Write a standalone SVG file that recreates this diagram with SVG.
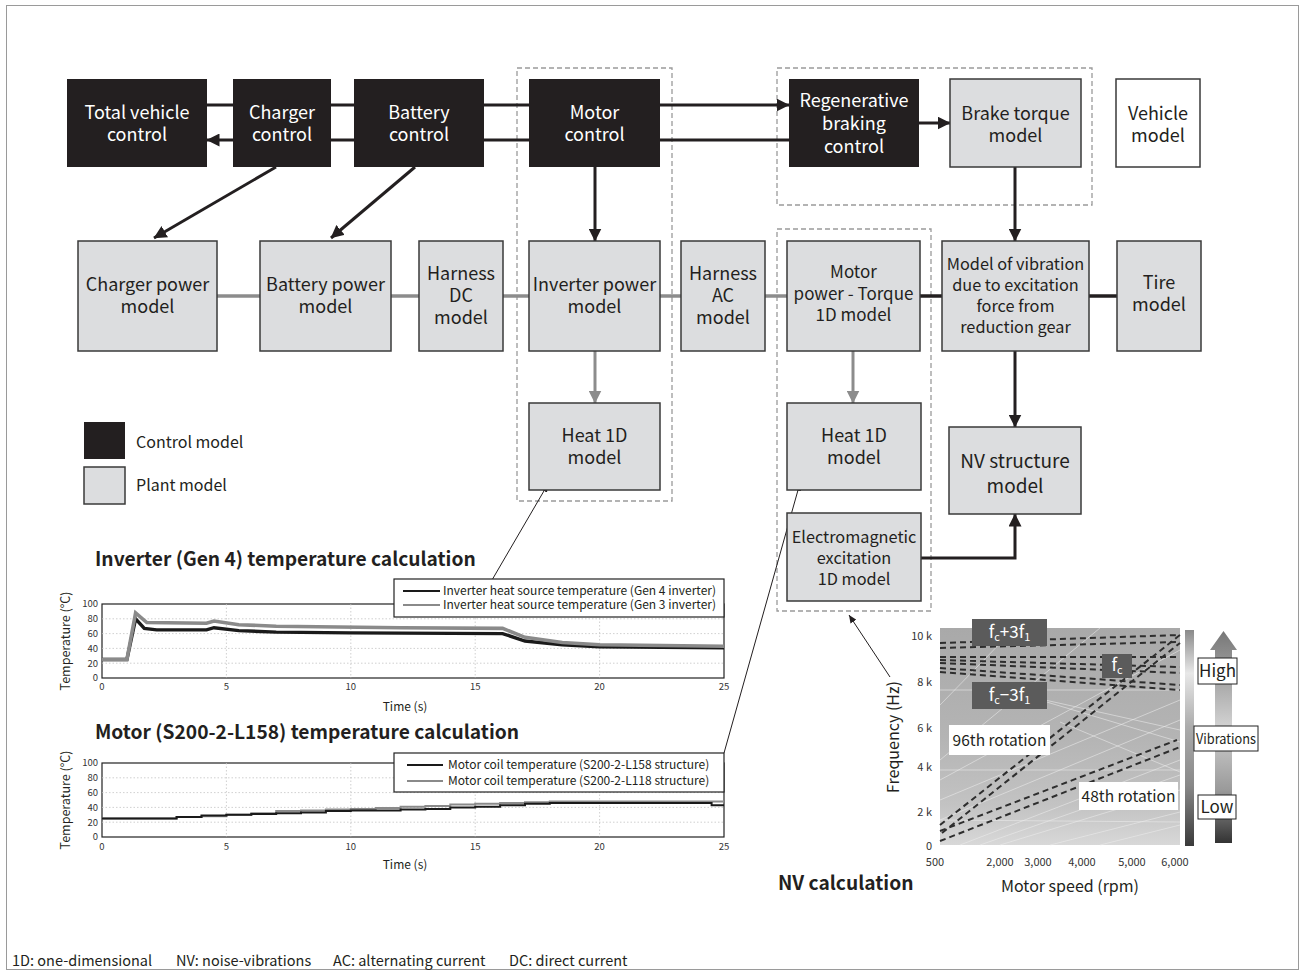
<svg xmlns="http://www.w3.org/2000/svg" width="1305" height="976" viewBox="0 0 1305 976">
<defs>
<style>
text{font-family:"Noto Sans CJK JP","Noto Sans",sans-serif;}
.ctl{fill:#231f20;}
.plant{fill:#dcdddf;stroke:#3a3a3a;stroke-width:1.5;}
.wt{fill:#fff;font-size:18px;text-anchor:middle;}
.bt{fill:#231f20;font-size:18px;text-anchor:middle;}
.bs{fill:#231f20;font-size:16.3px;text-anchor:middle;}
.bm{fill:#231f20;font-size:17px;text-anchor:middle;}
.dash{fill:none;stroke:#9a9a9a;stroke-width:1.3;stroke-dasharray:5 3;}
.blk{stroke:#231f20;stroke-width:3;fill:none;}
.gry{stroke:#8c8c8c;stroke-width:3.5;fill:none;}
.thin{stroke:#231f20;stroke-width:1;fill:none;}
.tickr{font-size:9.5px;fill:#333;text-anchor:end;}
.tickc{font-size:9.5px;fill:#333;text-anchor:middle;}
.grid{stroke:#c4c4c4;stroke-width:0.8;stroke-dasharray:1.5 2;}
.nvd{stroke:#2e2e2e;stroke-width:2;stroke-dasharray:6 4;fill:none;}
.streak{stroke:#eeeeee;stroke-width:1;opacity:.55;}
.ttl{font-size:19.2px;font-weight:bold;fill:#231f20;}
.leg{font-size:12px;fill:#231f20;}
.nvt{font-size:11px;fill:#333;}
.fbox{fill:#5b5b5b;}
.ft{fill:#fff;font-size:17px;text-anchor:middle;}
</style>
<marker id="ab" markerUnits="userSpaceOnUse" markerWidth="13" markerHeight="13" viewBox="0 0 13 13" refX="12.5" refY="6.5" orient="auto"><path d="M0,0 L13,6.5 L0,13 z" fill="#231f20"/></marker>
<marker id="ag" markerUnits="userSpaceOnUse" markerWidth="13" markerHeight="13" viewBox="0 0 13 13" refX="12.5" refY="6.5" orient="auto"><path d="M0,0 L13,6.5 L0,13 z" fill="#8c8c8c"/></marker>
<marker id="at" markerUnits="userSpaceOnUse" markerWidth="8" markerHeight="7" viewBox="0 0 8 7" refX="8" refY="3.5" orient="auto"><path d="M0,0 L8,3.5 L0,7 z" fill="#231f20"/></marker>
<linearGradient id="hm" x1="0" y1="0" x2="0" y2="1"><stop offset="0" stop-color="#a9a9a9"/><stop offset="0.5" stop-color="#b4b4b4"/><stop offset="0.82" stop-color="#c3c3c3"/><stop offset="1" stop-color="#d8d8d8"/></linearGradient>
<linearGradient id="cb" x1="0" y1="0" x2="0" y2="1"><stop offset="0" stop-color="#8a8a8a"/><stop offset="0.2" stop-color="#e8e8e8"/><stop offset="0.45" stop-color="#ababab"/><stop offset="0.72" stop-color="#888"/><stop offset="1" stop-color="#3a3a3a"/></linearGradient>
<linearGradient id="ar" x1="0" y1="0" x2="0" y2="1"><stop offset="0" stop-color="#777"/><stop offset="0.45" stop-color="#d2d2d2"/><stop offset="0.75" stop-color="#9a9a9a"/><stop offset="1" stop-color="#333"/></linearGradient>
</defs>
<rect x="0" y="0" width="1305" height="976" fill="#fff"/>
<rect x="6.5" y="5.5" width="1292" height="964" fill="none" stroke="#9a9a9a" stroke-width="1"/>

<g id="groups">
<rect class="dash" x="517" y="68" width="155" height="433"/>
<rect class="dash" x="777" y="68" width="315" height="137"/>
<rect class="dash" x="777" y="229" width="154" height="382"/>
</g>

<g id="connectors">
<line class="blk" x1="207" y1="105" x2="789" y2="105" marker-end="url(#ab)"/>
<line class="blk" x1="789" y1="140" x2="207" y2="140" marker-end="url(#ab)"/>
<line class="blk" x1="919" y1="123" x2="950" y2="123" marker-end="url(#ab)"/>
<line class="blk" x1="276" y1="167" x2="154" y2="238" marker-end="url(#ab)"/>
<line class="blk" x1="415" y1="167" x2="331" y2="238" marker-end="url(#ab)"/>
<line class="blk" x1="595" y1="167" x2="595" y2="241" marker-end="url(#ab)"/>
<line class="blk" x1="1015" y1="167" x2="1015" y2="241" marker-end="url(#ab)"/>
<line class="gry" x1="217" y1="296" x2="260" y2="296"/>
<line class="gry" x1="391" y1="296" x2="419" y2="296"/>
<line class="gry" x1="503" y1="296" x2="529" y2="296"/>
<line class="gry" x1="660" y1="296" x2="681" y2="296"/>
<line class="gry" x1="765" y1="296" x2="787" y2="296"/>
<line stroke="#231f20" stroke-width="3.5" x1="920" y1="296" x2="942" y2="296"/>
<line stroke="#231f20" stroke-width="3.5" x1="1089" y1="296" x2="1117" y2="296"/>
<line stroke="#8c8c8c" stroke-width="3" x1="595" y1="351" x2="595" y2="403" marker-end="url(#ag)"/>
<line stroke="#8c8c8c" stroke-width="3" x1="853" y1="351" x2="853" y2="403" marker-end="url(#ag)"/>
<line class="blk" x1="1015" y1="351" x2="1015" y2="427" marker-end="url(#ab)"/>
<path class="blk" d="M921,558 H1015 V514" marker-end="url(#ab)"/>
<line class="thin" x1="492" y1="580" x2="548" y2="484" marker-end="url(#at)"/>
<line class="thin" x1="724" y1="753" x2="800" y2="483" marker-end="url(#at)"/>
<line class="thin" x1="890" y1="677" x2="849" y2="615" marker-end="url(#at)"/>
</g>

<g id="total-vehicle-control"><rect class="ctl" x="67" y="79" width="140" height="88"/><text class="wt" x="137" y="119">Total vehicle</text><text class="wt" x="137" y="141">control</text></g>
<g id="charger-control"><rect class="ctl" x="233" y="79" width="98" height="88"/><text class="wt" x="282" y="119">Charger</text><text class="wt" x="282" y="141">control</text></g>
<g id="battery-control"><rect class="ctl" x="354" y="79" width="130" height="88"/><text class="wt" x="419" y="119">Battery</text><text class="wt" x="419" y="141">control</text></g>
<g id="motor-control"><rect class="ctl" x="529" y="79" width="131" height="88"/><text class="wt" x="594.5" y="119">Motor</text><text class="wt" x="594.5" y="141">control</text></g>
<g id="regenerative-braking-control"><rect class="ctl" x="789" y="79" width="130" height="88"/><text class="wt" x="854" y="107">Regenerative</text><text class="wt" x="854" y="130">braking</text><text class="wt" x="854" y="153">control</text></g>
<g id="brake-torque-model"><rect class="plant" x="950" y="79" width="131" height="88"/><text class="bt" x="1015.5" y="120">Brake torque</text><text class="bt" x="1015.5" y="142">model</text></g>
<g id="vehicle-model"><rect x="1116" y="79" width="84" height="88" fill="#fff" stroke="#3a3a3a" stroke-width="1.5"/><text class="bt" x="1158" y="120">Vehicle</text><text class="bt" x="1158" y="142">model</text></g>

<g id="charger-power-model"><rect class="plant" x="78" y="241" width="139" height="110"/><text class="bt" x="147.5" y="291">Charger power</text><text class="bt" x="147.5" y="313">model</text></g>
<g id="battery-power-model"><rect class="plant" x="260" y="241" width="131" height="110"/><text class="bt" x="325.5" y="291">Battery power</text><text class="bt" x="325.5" y="313">model</text></g>
<g id="harness-dc-model"><rect class="plant" x="419" y="241" width="84" height="110"/><text class="bt" x="461" y="280">Harness</text><text class="bt" x="461" y="302">DC</text><text class="bt" x="461" y="324">model</text></g>
<g id="inverter-power-model"><rect class="plant" x="529" y="241" width="131" height="110"/><text class="bt" x="594.5" y="291">Inverter power</text><text class="bt" x="594.5" y="313">model</text></g>
<g id="harness-ac-model"><rect class="plant" x="681" y="241" width="84" height="110"/><text class="bt" x="723" y="280">Harness</text><text class="bt" x="723" y="302">AC</text><text class="bt" x="723" y="324">model</text></g>
<g id="motor-power-torque-model"><rect class="plant" x="787" y="241" width="133" height="110"/><text class="bm" x="853.5" y="278">Motor</text><text class="bm" x="853.5" y="300">power - Torque</text><text class="bm" x="853.5" y="321">1D model</text></g>
<g id="vibration-model"><rect class="plant" x="942" y="241" width="147" height="110"/><text class="bs" x="1015.5" y="270">Model of vibration</text><text class="bs" x="1015.5" y="291">due to excitation</text><text class="bs" x="1015.5" y="312">force from</text><text class="bs" x="1015.5" y="333">reduction gear</text></g>
<g id="tire-model"><rect class="plant" x="1117" y="241" width="84" height="110"/><text class="bt" x="1159" y="289">Tire</text><text class="bt" x="1159" y="311">model</text></g>

<g id="heat-1d-inverter"><rect class="plant" x="529" y="403" width="131" height="87"/><text class="bt" x="594.5" y="442">Heat 1D</text><text class="bt" x="594.5" y="464">model</text></g>
<g id="heat-1d-motor"><rect class="plant" x="787" y="403" width="134" height="87"/><text class="bt" x="854" y="442">Heat 1D</text><text class="bt" x="854" y="464">model</text></g>
<g id="electromagnetic-excitation-model"><rect class="plant" x="787" y="513" width="134" height="88"/><text class="bs" x="854" y="543">Electromagnetic</text><text class="bs" x="854" y="564">excitation</text><text class="bs" x="854" y="585">1D model</text></g>
<g id="nv-structure-model"><rect class="plant" x="949" y="427" width="132" height="87"/><text class="bt" style="font-size:19px" x="1015" y="468">NV structure</text><text class="bt" style="font-size:19px" x="1015" y="493">model</text></g>

<g id="legend">
<rect class="ctl" x="84" y="422" width="41" height="37"/>
<text x="136" y="448" font-size="16" fill="#231f20">Control model</text>
<rect class="plant" x="84" y="467" width="41" height="37"/>
<text x="136" y="491" font-size="16" fill="#231f20">Plant model</text>
</g>

<g id="inverter-chart">
<text class="ttl" x="95" y="566">Inverter (Gen 4) temperature calculation</text>
<rect x="102" y="604" width="622" height="74" fill="#fff" stroke="#222" stroke-width="1.2"/>
<line class="grid" x1="226.4" y1="604" x2="226.4" y2="678"/><line class="grid" x1="350.8" y1="604" x2="350.8" y2="678"/><line class="grid" x1="475.2" y1="604" x2="475.2" y2="678"/><line class="grid" x1="599.6" y1="604" x2="599.6" y2="678"/>
<line class="grid" x1="102" y1="618.8" x2="724" y2="618.8"/><line class="grid" x1="102" y1="633.6" x2="724" y2="633.6"/><line class="grid" x1="102" y1="648.4" x2="724" y2="648.4"/><line class="grid" x1="102" y1="663.2" x2="724" y2="663.2"/>
<polyline fill="none" stroke="#1a1a1a" stroke-width="3.4" points="102,659.5 126.9,659.5 135.6,618.8 144.3,628.4 156.7,629.9 206.5,629.9 214,627.7 238.8,630.6 276.2,632.1 350.8,632.9 502.6,633.6 525,641 562.3,644.7 599.6,646.9 724,647.7"/>
<polyline fill="none" stroke="#8a8a8a" stroke-width="3.6" points="102,659.5 126.9,659.5 135.6,612.9 146.8,622.5 206.5,623.2 214,621 238.8,624.7 276.2,626.2 400.6,627.7 502.6,628.4 525,637.3 562.3,642.5 599.6,644.7 724,646.2"/>
<text class="tickr" x="98" y="607">100</text><text class="tickr" x="98" y="622">80</text><text class="tickr" x="98" y="637">60</text><text class="tickr" x="98" y="651.5">40</text><text class="tickr" x="98" y="666.5">20</text><text class="tickr" x="98" y="681">0</text>
<text class="tickc" x="102" y="690">0</text><text class="tickc" x="226.4" y="690">5</text><text class="tickc" x="350.8" y="690">10</text><text class="tickc" x="475.2" y="690">15</text><text class="tickc" x="599.6" y="690">20</text><text class="tickc" x="724" y="690">25</text>
<text transform="translate(70,641) rotate(-90)" text-anchor="middle" font-size="12.5" fill="#231f20">Temperature (°C)</text>
<text x="405" y="711" text-anchor="middle" font-size="12" fill="#231f20">Time (s)</text>
<rect x="394" y="579" width="330" height="38" fill="#fff" stroke="#222" stroke-width="1.2"/>
<line x1="403" y1="591" x2="440" y2="591" stroke="#1a1a1a" stroke-width="2"/>
<line x1="403" y1="605" x2="440" y2="605" stroke="#8a8a8a" stroke-width="2"/>
<text class="leg" x="443" y="595">Inverter heat source temperature (Gen 4 inverter)</text>
<text class="leg" x="443" y="609">Inverter heat source temperature (Gen 3 inverter)</text>
</g>

<g id="motor-chart">
<text class="ttl" x="95" y="739">Motor (S200-2-L158) temperature calculation</text>
<rect x="102" y="763" width="622" height="74" fill="#fff" stroke="#222" stroke-width="1.2"/>
<line class="grid" x1="226.4" y1="763" x2="226.4" y2="837"/><line class="grid" x1="350.8" y1="763" x2="350.8" y2="837"/><line class="grid" x1="475.2" y1="763" x2="475.2" y2="837"/><line class="grid" x1="599.6" y1="763" x2="599.6" y2="837"/>
<line class="grid" x1="102" y1="777.8" x2="724" y2="777.8"/><line class="grid" x1="102" y1="792.6" x2="724" y2="792.6"/><line class="grid" x1="102" y1="807.4" x2="724" y2="807.4"/><line class="grid" x1="102" y1="822.2" x2="724" y2="822.2"/>
<path fill="none" stroke="#8a8a8a" stroke-width="2" d="M102,818.5 H176.6 V817 H201.5 V816.3 H226.4 V814.8 H251.3 V813.3 H276.2 V811.1 H301 V810.4 H325.9 V809.6 H350.8 V808.9 H375.7 V808.1 H400.6 V806.7 H425.4 V805.9 H450.3 V804.4 H475.2 V803.7 H500.1 V803 H525 V802.2 H549.8 V801.5 H724"/>
<path fill="none" stroke="#1a1a1a" stroke-width="2" d="M102,818.5 H176.6 V817 H201.5 V815.5 H226.4 V814.8 H251.3 V814.1 H276.2 V813.3 H301 V812.6 H325.9 V811.1 H350.8 V810.4 H400.6 V809.6 H425.4 V808.9 H450.3 V807.4 H475.2 V806.7 H500.1 V805.2 H525 V803.7 H549.8 V803 H711.6 V805.2 H724"/>
<text class="tickr" x="98" y="766">100</text><text class="tickr" x="98" y="781">80</text><text class="tickr" x="98" y="796">60</text><text class="tickr" x="98" y="810.5">40</text><text class="tickr" x="98" y="825.5">20</text><text class="tickr" x="98" y="840">0</text>
<text class="tickc" x="102" y="850">0</text><text class="tickc" x="226.4" y="850">5</text><text class="tickc" x="350.8" y="850">10</text><text class="tickc" x="475.2" y="850">15</text><text class="tickc" x="599.6" y="850">20</text><text class="tickc" x="724" y="850">25</text>
<text transform="translate(70,800) rotate(-90)" text-anchor="middle" font-size="12.5" fill="#231f20">Temperature (°C)</text>
<text x="405" y="869" text-anchor="middle" font-size="12" fill="#231f20">Time (s)</text>
<rect x="394" y="753" width="330" height="39" fill="#fff" stroke="#222" stroke-width="1.2"/>
<line x1="407" y1="765" x2="443" y2="765" stroke="#1a1a1a" stroke-width="2"/>
<line x1="407" y1="781" x2="443" y2="781" stroke="#8a8a8a" stroke-width="2"/>
<text class="leg" x="448" y="769">Motor coil temperature (S200-2-L158 structure)</text>
<text class="leg" x="448" y="785">Motor coil temperature (S200-2-L118 structure)</text>
</g>

<g id="nv-chart">
<rect x="940" y="628" width="240" height="217" fill="url(#hm)"/>
<line class="streak" x1="940" y1="800" x2="1180" y2="700"/>
<line class="streak" x1="940" y1="780" x2="1180" y2="650"/>
<line class="streak" x1="960" y1="845" x2="1180" y2="760"/>
<line class="streak" x1="1000" y1="845" x2="1180" y2="790"/>
<line class="streak" x1="940" y1="760" x2="1100" y2="628"/>
<line class="streak" x1="1050" y1="845" x2="1180" y2="812"/>
<line class="streak" x1="940" y1="705" x2="1015" y2="628"/>
<line class="streak" x1="1040" y1="700" x2="1180" y2="742"/>
<line class="streak" x1="1000" y1="690" x2="1180" y2="730"/>
<line class="streak" x1="1060" y1="722" x2="1180" y2="772"/>
<line class="streak" x1="980" y1="845" x2="1180" y2="775"/>
<line class="streak" x1="940" y1="820" x2="1180" y2="720"/>
<line class="streak" x1="1100" y1="845" x2="1180" y2="825"/>
<line class="streak" x1="940" y1="690" x2="1180" y2="690"/>
<line class="streak" x1="940" y1="770" x2="1180" y2="770"/>
<line class="streak" x1="940" y1="820" x2="1180" y2="822"/>
<line class="nvd" x1="940" y1="643" x2="1180" y2="635"/>
<line class="nvd" x1="940" y1="648" x2="1180" y2="642"/>
<line class="nvd" x1="940" y1="657" x2="1180" y2="657"/>
<line class="nvd" x1="940" y1="660" x2="1180" y2="667"/>
<line class="nvd" x1="940" y1="663" x2="1180" y2="673"/>
<line class="nvd" x1="940" y1="668" x2="1180" y2="685"/>
<line class="nvd" x1="940" y1="672" x2="1180" y2="690"/>
<line class="nvd" x1="940" y1="825" x2="1180" y2="635"/>
<line class="nvd" x1="942" y1="833" x2="1180" y2="643"/>
<line class="nvd" x1="940" y1="831" x2="1177" y2="740"/>
<line class="nvd" x1="940" y1="841" x2="1180" y2="747"/>
<rect x="1185" y="630" width="9" height="216" fill="url(#cb)"/>
<path d="M1223.5,631 L1237,650 L1232,650 L1232,843 L1215,843 L1215,650 L1210,650 Z" fill="url(#ar)"/>
<rect class="fbox" x="972" y="619" width="75" height="27"/>
<text class="ft" x="1009.5" y="638">f<tspan font-size="11" dy="3">c</tspan><tspan dy="-3">+3f</tspan><tspan font-size="11" dy="3">1</tspan></text>
<rect class="fbox" x="1102" y="654" width="30" height="24"/>
<text class="ft" x="1117" y="671">f<tspan font-size="11" dy="3">c</tspan></text>
<rect class="fbox" x="972" y="682" width="75" height="27"/>
<text class="ft" x="1009.5" y="701">f<tspan font-size="11" dy="3">c</tspan><tspan dy="-3">−3f</tspan><tspan font-size="11" dy="3">1</tspan></text>
<rect x="949" y="725" width="101" height="30" fill="#fff"/>
<text x="999.5" y="746" text-anchor="middle" font-size="15.5" fill="#231f20">96th rotation</text>
<rect x="1079" y="782" width="99" height="28" fill="#fff"/>
<text x="1128.5" y="802" text-anchor="middle" font-size="15.5" fill="#231f20">48th rotation</text>
<rect x="1198" y="658" width="39" height="26" fill="#fff" stroke="#222" stroke-width="1"/>
<text x="1217.5" y="677" text-anchor="middle" font-size="17" fill="#231f20">High</text>
<rect x="1194" y="726" width="64" height="25" fill="#fff" stroke="#222" stroke-width="1"/>
<text x="1226" y="744" text-anchor="middle" font-size="14" fill="#231f20" textLength="60" lengthAdjust="spacingAndGlyphs">Vibrations</text>
<rect x="1198" y="795" width="38" height="24" fill="#fff" stroke="#222" stroke-width="1"/>
<text x="1217" y="813" text-anchor="middle" font-size="17" fill="#231f20">Low</text>
<text class="nvt" x="932" y="640" text-anchor="end">10 k</text>
<text class="nvt" x="932" y="686" text-anchor="end">8 k</text>
<text class="nvt" x="932" y="732" text-anchor="end">6 k</text>
<text class="nvt" x="932" y="771" text-anchor="end">4 k</text>
<text class="nvt" x="932" y="816" text-anchor="end">2 k</text>
<text class="nvt" x="932" y="850" text-anchor="end">0</text>
<text class="nvt" x="935" y="866" text-anchor="middle">500</text>
<text class="nvt" x="1000" y="866" text-anchor="middle">2,000</text>
<text class="nvt" x="1038" y="866" text-anchor="middle">3,000</text>
<text class="nvt" x="1082" y="866" text-anchor="middle">4,000</text>
<text class="nvt" x="1132" y="866" text-anchor="middle">5,000</text>
<text class="nvt" x="1175" y="866" text-anchor="middle">6,000</text>
<text transform="translate(899,737) rotate(-90)" text-anchor="middle" font-size="16" fill="#231f20">Frequency (Hz)</text>
<text x="1070" y="892" text-anchor="middle" font-size="16" fill="#231f20">Motor speed (rpm)</text>
<text class="ttl" x="778" y="890">NV calculation</text>
</g>

<g id="footnote">
<text font-size="14.5" fill="#231f20" y="966"><tspan x="12">1D: one-dimensional</tspan><tspan x="176">NV: noise-vibrations</tspan><tspan x="333">AC: alternating current</tspan><tspan x="509">DC: direct current</tspan></text>
</g>
</svg>
